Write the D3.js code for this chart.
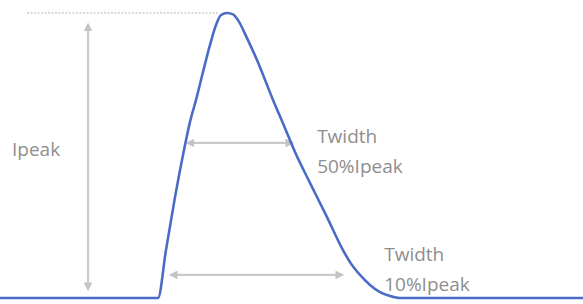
<!DOCTYPE html>
<html><head><meta charset="utf-8">
<script src="https://cdn.jsdelivr.net/npm/d3@7"></script>
<style>html,body{margin:0;padding:0;background:#fff;overflow:hidden}</style>
</head><body><svg id="c" width="583" height="304"></svg>
<script>
// pulse waveform: time (arbitrary units) and current (fraction of Ipeak)
const time    = [0, 27.1, 28.47, 30.02, 31.56, 32.59, 33.62, 34.82, 36.02, 37.05, 37.91, 38.94, 39.97, 40.82, 42.37, 44.08, 46.83, 48.89, 50.6, 53.17, 56.09, 58.83, 60.03, 61.75, 63.46, 65.18, 66.9, 68.61, 100];
const current = [0, 0, 0.168, 0.354, 0.519, 0.618, 0.695, 0.793, 0.888, 0.958, 0.993, 1.0, 0.995, 0.975, 0.912, 0.835, 0.695, 0.596, 0.512, 0.404, 0.284, 0.168, 0.126, 0.081, 0.046, 0.021, 0.007, 0, 0];

// annotations
const peakLine   = {t0: 4.63, t1: 37.4, level: 1};
const peakArrow  = {t: 15.1, i0: 0.951, i1: 0.039};
const widthArrows = [
  {t0: 32.6, t1: 49.7, level: 0.544},
  {t0: 29.7, t1: 58.3, level: 0.081}
];
const labels = [
  {text: "Ipeak",    t: 2.06,  level: 0.50},
  {text: "Twidth",   t: 54.4,  level: 0.543},
  {text: "50%Ipeak", t: 54.4,  level: 0.438},
  {text: "Twidth",   t: 65.9,  level: 0.130},
  {text: "10%Ipeak", t: 65.9,  level: 0.023}
];

const svg = d3.select("#c");
const x = d3.scaleLinear().domain([0, 100]).range([0, 583]);
const y = d3.scaleLinear().domain([0, 1]).range([298, 13]);

const defs = svg.append("defs");
["s","e"].forEach(k => {
  defs.append("marker").attr("id","ah"+k)
    .attr("viewBox","0 0 10 10").attr("refX", 5).attr("refY",5)
    .attr("markerWidth",4).attr("markerHeight",4)
    .attr("orient", k==="s" ? "auto-start-reverse" : "auto")
    .attr("markerUnits","strokeWidth")
    .append("path").attr("d","M0,0L10,5L0,10z").attr("fill","#c4c4c4");
});

svg.append("line")
  .attr("x1", x(peakLine.t0)).attr("x2", x(peakLine.t1))
  .attr("y1", y(peakLine.level)).attr("y2", y(peakLine.level))
  .attr("stroke","#b5b5b5").attr("stroke-width",1.2).attr("stroke-dasharray","2,1.5");

const arrowStyle = sel => sel.attr("stroke","#cacaca").attr("stroke-width",2.2)
  .attr("marker-start","url(#ahs)").attr("marker-end","url(#ahe)");

svg.append("line")
  .attr("x1", x(peakArrow.t)).attr("x2", x(peakArrow.t))
  .attr("y1", y(peakArrow.i0)).attr("y2", y(peakArrow.i1))
  .call(arrowStyle);

svg.selectAll(".wa").data(widthArrows).enter().append("line")
  .attr("x1", d => x(d.t0)).attr("x2", d => x(d.t1))
  .attr("y1", d => y(d.level)).attr("y2", d => y(d.level))
  .call(arrowStyle);

const pts = time.map((t, i) => [t, current[i]]);
svg.append("path")
  .attr("d", d3.line().x(d => x(d[0])).y(d => y(d[1])).curve(d3.curveMonotoneX)(pts))
  .attr("fill","none").attr("stroke","#4a6cc6").attr("stroke-width",2.6)
  .attr("stroke-linejoin","round");

svg.selectAll(".lb").data(labels).enter().append("text")
  .attr("x", d => x(d.t)).attr("y", d => y(d.level))
  .attr("font-family","'Open Sans', sans-serif").attr("font-size",19)
  .attr("fill","#8e8e8e")
  .text(d => d.text);
</script>
</body></html>
